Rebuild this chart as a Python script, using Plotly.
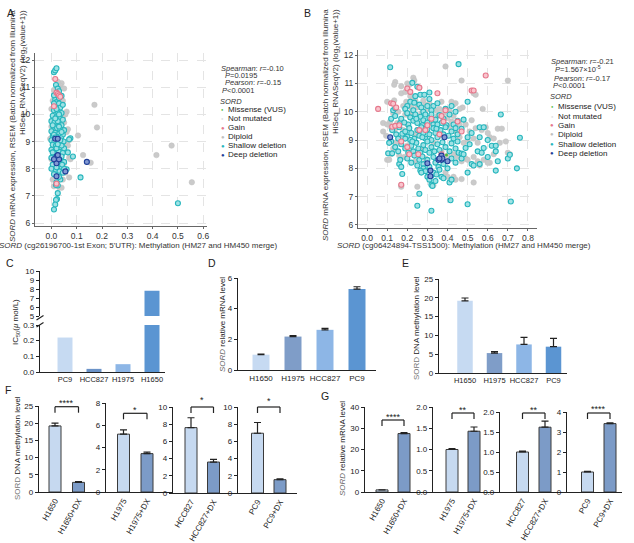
import plotly.graph_objects as go

W, H = 634, 543
FONT = "Liberation Sans, Arial, sans-serif"
TXT = "#222222"

# ---------------- data ----------------
# Panel A  (methylation cg26196700 vs mRNA)
A_diploid = [(0.04, 11.15), (0.035, 11.05), (0.025, 11.2), (0.03, 11.0), (0.05, 10.95), (0.06, 10.1),
             (0.055, 10.0), (0.065, 9.45), (0.06, 9.35), (0.07, 9.05), (0.065, 8.85), (0.07, 8.4),
             (0.075, 8.35), (0.07, 7.68), (0.055, 7.85), (0.045, 7.6), (0.01, 7.35), (0.03, 7.32),
             (0.04, 7.3), (0.005, 7.6), (0.0, 9.55), (-0.005, 9.1), (0.0, 8.35), (0.005, 10.5),
             (0.01, 9.0), (0.17, 10.35), (0.18, 9.52), (0.105, 9.22), (0.125, 8.5), (0.155, 8.22),
             (0.415, 8.5), (0.475, 8.85), (0.555, 7.5), (0.045, 10.5), (0.05, 9.7), (0.01, 10.9),
             (0.03, 7.8), (0.055, 8.95), (0.045, 9.9), (0.04, 8.6), (0.0, 10.2), (0.05, 8.2)]
A_shallow = [(0.01, 11.55), (0.015, 11.62), (0.02, 11.7), (0.018, 11.08), (0.025, 10.95), (0.03, 10.85),
             (0.04, 10.68), (0.015, 10.55), (0.02, 10.45), (0.03, 10.4), (0.035, 10.25), (0.01, 10.15),
             (0.025, 10.1), (0.04, 10.05), (0.005, 9.95), (0.02, 9.9), (0.035, 9.85), (0.045, 9.8),
             (0.0, 9.75), (0.012, 9.7), (0.028, 9.65), (0.04, 9.6), (0.008, 9.55), (0.022, 9.5),
             (0.035, 9.45), (0.05, 9.42), (0.0, 9.38), (0.015, 9.32), (0.03, 9.28), (0.045, 9.25),
             (0.005, 9.2), (0.02, 9.18), (0.038, 9.12), (0.0, 9.05), (0.012, 9.0), (0.028, 8.98),
             (0.042, 8.95), (0.005, 8.88), (0.018, 8.85), (0.035, 8.8), (0.05, 8.75), (0.0, 8.7),
             (0.015, 8.65), (0.03, 8.62), (0.045, 8.58), (0.008, 8.52), (0.025, 8.48), (0.04, 8.45),
             (0.0, 8.4), (0.015, 8.3), (0.035, 8.28), (0.05, 8.25), (0.005, 8.15), (0.025, 8.1),
             (0.04, 8.05), (0.0, 8.0), (0.018, 7.95), (0.032, 7.9), (0.045, 7.85), (0.01, 7.8),
             (0.028, 7.75), (0.035, 7.6), (0.02, 7.5), (0.025, 7.38), (0.018, 7.4), (0.025, 7.1),
             (0.022, 6.88), (0.018, 6.85), (0.015, 6.68), (0.01, 6.5), (0.115, 7.68), (0.5, 6.73),
             (0.085, 8.45), (0.065, 8.6), (0.075, 9.12), (0.07, 9.08), (0.06, 7.98), (0.05, 8.0),
             (0.03, 10.6), (0.01, 10.7), (0.02, 10.2), (0.045, 10.35), (0.005, 9.6), (0.048, 9.0),
             (0.01, 9.25), (0.03, 9.55), (0.04, 8.85), (0.012, 8.55), (0.03, 8.35), (0.042, 8.15),
             (0.02, 8.75), (0.025, 9.75), (0.015, 9.15), (0.03, 10.0), (0.015, 9.85), (0.035, 9.05),
             (0.02, 8.05), (0.005, 8.6), (0.04, 9.35), (0.025, 8.9), (0.01, 10.4), (0.03, 7.7)]
A_gain = [(0.015, 11.3), (0.01, 10.3), (0.02, 10.8), (0.025, 10.75), (0.03, 10.7), (0.035, 10.65),
          (0.02, 7.45)]
A_deep = [(0.14, 8.25), (0.055, 7.9), (0.02, 7.72), (0.015, 9.1), (0.025, 9.1), (0.02, 8.45),
          (0.02, 8.2), (0.03, 8.35), (0.01, 8.35), (0.025, 8.5)]

# Panel B  (methylation cg06424894 vs mRNA)
B_diploid = [(0.39, 11.6), (0.47, 11.1), (0.7, 11.1), (0.2, 11.0), (0.23, 11.2), (0.235, 11.1),
             (0.14, 11.05), (0.135, 10.95), (0.17, 10.9), (0.21, 10.95), (0.26, 10.85), (0.53, 10.65),
             (0.54, 10.6), (0.1, 10.35), (0.135, 10.4), (0.17, 10.65), (0.19, 10.7), (0.215, 10.55),
             (0.24, 10.4), (0.28, 10.4), (0.31, 10.3), (0.37, 10.35), (0.42, 10.35), (0.44, 10.3),
             (0.43, 10.25), (0.475, 10.15), (0.46, 10.1), (0.575, 10.1), (0.08, 9.6), (0.1, 9.55),
             (0.115, 9.65), (0.13, 9.95), (0.15, 9.6), (0.155, 10.0), (0.18, 10.2), (0.195, 10.35),
             (0.22, 10.15), (0.23, 10.45), (0.25, 10.15), (0.27, 9.95), (0.34, 10.05), (0.36, 10.1),
             (0.38, 9.95), (0.4, 9.78), (0.41, 10.05), (0.43, 9.85), (0.46, 9.55), (0.49, 9.55),
             (0.52, 9.7), (0.54, 9.42), (0.57, 9.35), (0.59, 9.45), (0.65, 9.4), (0.67, 9.4),
             (0.08, 9.3), (0.095, 9.15), (0.14, 9.4), (0.16, 9.05), (0.2, 9.55), (0.24, 9.2),
             (0.28, 9.55), (0.32, 9.62), (0.36, 9.15), (0.41, 9.45), (0.44, 9.3), (0.46, 9.1),
             (0.48, 8.9), (0.5, 9.0), (0.53, 9.05), (0.55, 8.9), (0.61, 9.1), (0.63, 9.05),
             (0.66, 8.9), (0.69, 8.95), (0.1, 8.3), (0.12, 8.5), (0.13, 8.7), (0.16, 8.45),
             (0.185, 8.4), (0.2, 8.8), (0.21, 8.65), (0.25, 8.5), (0.27, 8.7), (0.29, 8.35),
             (0.33, 8.9), (0.4, 8.45), (0.43, 8.5), (0.45, 8.4), (0.47, 8.25), (0.49, 8.35),
             (0.5, 8.3), (0.53, 8.4), (0.55, 8.25), (0.58, 8.3), (0.61, 8.2), (0.63, 8.5),
             (0.7, 8.55), (0.71, 8.5), (0.11, 8.3), (0.17, 7.35), (0.17, 7.4), (0.25, 7.35),
             (0.44, 7.6), (0.47, 7.62), (0.53, 7.5), (0.56, 8.1), (0.6, 8.2), (0.39, 7.85),
             (0.43, 7.7), (0.33, 7.4), (0.4, 7.7), (0.21, 9.85), (0.19, 9.9), (0.26, 9.75),
             (0.3, 10.1), (0.12, 9.45), (0.18, 9.35), (0.22, 9.95), (0.29, 10.25), (0.35, 9.85),
             (0.42, 9.65), (0.51, 9.3), (0.6, 9.25), (0.14, 8.9), (0.24, 8.25), (0.37, 8.6)]
B_shallow = [(0.115, 11.57), (0.455, 11.68), (0.225, 11.02), (0.25, 10.88), (0.265, 10.6), (0.31, 10.68),
             (0.31, 10.45), (0.285, 10.6), (0.24, 10.55),
             (0.215, 10.35), (0.235, 10.32), (0.2, 10.2), (0.26, 10.25), (0.27, 10.15), (0.3, 10.2),
             (0.33, 10.2), (0.35, 10.3), (0.42, 10.2), (0.39, 10.1), (0.5, 10.35), (0.13, 10.05),
             (0.19, 10.1), (0.23, 10.05), (0.28, 10.0), (0.32, 10.05), (0.44, 10.0), (0.14, 10.12),
             (0.12, 9.75), (0.14, 9.85), (0.165, 9.6), (0.17, 9.75), (0.2, 9.95), (0.215, 9.8),
             (0.23, 9.68), (0.24, 9.9), (0.25, 9.6), (0.265, 9.82), (0.28, 9.7), (0.29, 9.9),
             (0.3, 9.62), (0.31, 9.78), (0.32, 9.9), (0.33, 9.55), (0.34, 9.72), (0.36, 9.88),
             (0.37, 9.6), (0.38, 9.75), (0.41, 9.9), (0.43, 9.55), (0.45, 9.68), (0.48, 9.72),
             (0.56, 9.45), (0.665, 9.9), (0.205, 9.55), (0.185, 9.62), (0.245, 9.75), (0.275, 9.52),
             (0.35, 9.55), (0.395, 9.52),
             (0.125, 9.35), (0.145, 9.2), (0.16, 9.45), (0.175, 9.22), (0.19, 9.3), (0.2, 9.12),
             (0.21, 9.42), (0.22, 9.25), (0.235, 9.05), (0.25, 9.35), (0.26, 9.15), (0.27, 9.45),
             (0.28, 9.25), (0.29, 9.05), (0.3, 9.38), (0.31, 9.2), (0.32, 9.0), (0.33, 9.42),
             (0.34, 9.25), (0.35, 9.1), (0.365, 9.35), (0.38, 9.2), (0.39, 9.45), (0.405, 9.15),
             (0.42, 9.3), (0.43, 9.05), (0.45, 9.2), (0.47, 9.4), (0.5, 9.1), (0.52, 9.25),
             (0.56, 9.1), (0.58, 9.45), (0.6, 9.0), (0.76, 9.08), (0.12, 8.95), (0.11, 8.9),
             (0.215, 9.0), (0.275, 9.1), (0.345, 9.4), (0.44, 9.42), (0.19, 9.05), (0.155, 9.05),
             (0.105, 8.53), (0.14, 8.75), (0.155, 8.6), (0.17, 8.85), (0.19, 8.7), (0.205, 8.55),
             (0.22, 8.8), (0.23, 8.6), (0.245, 8.9), (0.255, 8.7), (0.265, 8.55), (0.28, 8.82),
             (0.29, 8.65), (0.3, 8.95), (0.31, 8.55), (0.32, 8.75), (0.335, 8.6), (0.35, 8.85),
             (0.36, 8.65), (0.375, 8.92), (0.39, 8.75), (0.41, 8.6), (0.42, 8.88), (0.44, 8.7),
             (0.455, 8.55), (0.47, 8.52), (0.49, 8.72), (0.51, 8.85), (0.55, 8.6), (0.58, 8.72),
             (0.62, 8.8), (0.64, 8.8), (0.64, 8.6), (0.57, 8.55), (0.45, 8.95), (0.225, 8.95),
             (0.125, 8.53),
             (0.16, 8.15), (0.165, 8.3), (0.2, 8.35), (0.22, 8.2), (0.235, 8.45), (0.25, 8.1),
             (0.26, 8.3), (0.275, 8.42), (0.28, 8.15), (0.3, 8.3), (0.31, 8.05), (0.33, 8.4),
             (0.34, 8.2), (0.355, 8.05), (0.38, 8.15), (0.4, 8.0), (0.42, 8.35), (0.44, 8.2),
             (0.47, 8.35), (0.48, 8.5), (0.52, 8.15), (0.53, 8.1), (0.56, 8.15), (0.6, 8.4),
             (0.65, 8.25), (0.7, 8.35), (0.71, 8.48), (0.17, 8.05), (0.28, 8.0),
             (0.175, 7.8), (0.29, 7.9), (0.3, 7.7), (0.31, 7.6), (0.32, 7.75), (0.33, 7.85),
             (0.34, 7.55), (0.345, 7.78), (0.36, 7.95), (0.37, 7.7), (0.38, 7.65), (0.41, 7.5),
             (0.42, 7.6), (0.5, 7.85), (0.64, 7.92), (0.745, 8.0), (0.32, 7.42), (0.325, 7.38),
             (0.26, 7.1), (0.265, 7.92), (0.27, 7.85),
             (0.25, 6.68), (0.32, 6.5), (0.415, 6.87), (0.5, 6.73), (0.715, 6.83)]
B_gain = [(0.055, 10.1), (0.12, 10.3), (0.13, 10.28), (0.145, 10.15), (0.125, 9.47), (0.14, 9.5),
          (0.16, 9.52), (0.17, 8.95), (0.17, 7.42), (0.2, 10.82), (0.26, 10.85), (0.2, 8.75),
          (0.255, 8.5), (0.35, 10.65), (0.3, 9.52), (0.32, 9.75), (0.37, 9.85), (0.39, 10.05),
          (0.37, 8.5), (0.36, 9.2), (0.38, 9.65), (0.47, 9.3), (0.45, 9.65), (0.52, 10.75),
          (0.53, 10.75), (0.59, 11.28), (0.26, 9.35), (0.29, 9.35), (0.215, 10.7), (0.21, 8.5)]
B_deep = [(0.115, 9.1), (0.385, 9.1), (0.37, 8.45), (0.37, 8.3), (0.355, 8.3), (0.375, 8.35),
          (0.4, 8.25), (0.3, 8.18), (0.315, 7.92), (0.315, 7.72), (0.36, 8.35)]
B_missense = [(0.395, 8.47)]

# Panel C
C_cells = ["PC9", "HCC827", "H1975", "H1650"]
C_ic50 = [0.22, 0.02, 0.05, 7.8]
# Panel D
D_cells = ["H1650", "H1975", "HCC827", "PC9"]
D_mrna = [1.0, 2.18, 2.62, 5.28]
D_err = [0.03, 0.07, 0.1, 0.15]
# Panel E
E_cells = ["H1650", "H1975", "HCC827", "PC9"]
E_meth = [19.2, 5.3, 7.6, 7.0]
E_err = [0.75, 0.4, 1.9, 2.2]
# Panel F (DNA methylation +/- DX)
F_labels = [["H1650", "H1650+DX"], ["H1975", "H1975+DX"], ["HCC827", "HCC827+DX"], ["PC9", "PC9+DX"]]
F_vals = [[19.2, 2.8], [5.2, 3.45], [7.6, 3.6], [6.95, 1.55]]
F_err = [[0.8, 0.25], [0.38, 0.13], [1.15, 0.32], [1.25, 0.1]]
F_sig = ["****", "*", "*", "*"]
F_ymax = [25, 8, 10, 10]
F_dtick = [5, 2, 2, 2]
# Panel G (mRNA +/- DX)
G_labels = [["H1650", "H1650+DX"], ["H1975", "H1975+DX"], ["HCC827", "HCC827+DX"], ["PC9", "PC9+DX"]]
G_vals = [[1.0, 27.5], [1.0, 1.43], [1.0, 1.62], [1.0, 3.42]]
G_err = [[0.05, 0.4], [0.02, 0.1], [0.02, 0.15], [0.03, 0.04]]
G_sig = ["****", "**", "**", "****"]
G_ymax = [40, 2, 2, 4]
G_dtick = [10, 0.5, 0.5, 1]

# ---------------- styles ----------------
GRAY, GRAY_L = "#cacaca", "#c0c0c0"
CYAN, CYAN_L = "#9fe2e5", "#27b6bd"
PINK, PINK_L = "#f9c4cd", "#e5788c"
DEEP, DEEP_L = "#8299d2", "#1f3f99"
GREEN = "#4fb83a"
BAR_COL4 = {"PC9": "#5b95d2", "HCC827": "#8db6e6", "H1975": "#7f9dc8", "H1650": "#c6daf2"}
C_COL = ["#c6daf2", "#6b93c8", "#8db6e6", "#5b95d2"]
PAIR_COL = ["#c6d9f0", "#7c9bc7"]


def dom_x(l, r):
    return [l / W, r / W]


def dom_y(top, bot):
    return [1 - bot / H, 1 - top / H]


def xn(n):
    return "xaxis" if n == 1 else f"xaxis{n}"


def yn(n):
    return "yaxis" if n == 1 else f"yaxis{n}"


def xr(n):
    return "x" if n == 1 else f"x{n}"


def yr(n):
    return "y" if n == 1 else f"y{n}"


fig = go.Figure()
layout = dict(width=W, height=H, margin=dict(l=0, r=0, t=0, b=0), paper_bgcolor="white",
              plot_bgcolor="white", showlegend=False, barmode="overlay",
              font=dict(family=FONT, size=8, color=TXT))
shapes, anns = [], []


def note(text, x, y, size=8, xa="left", ya="middle", angle=0, color=TXT, align="left"):
    anns.append(dict(text=text, x=x / W, y=1 - y / H, xref="paper", yref="paper", xanchor=xa,
                     yanchor=ya, showarrow=False, textangle=angle, align=align,
                     font=dict(size=size, color=color, family=FONT)))


def pline(x0, y0, x1, y1, color="#222", width=1.2, xref="paper", pxx=True):
    if pxx:
        x0, x1 = x0 / W, x1 / W
    shapes.append(dict(type="line", xref=xref, yref="paper", x0=x0, x1=x1, y0=1 - y0 / H,
                       y1=1 - y1 / H, line=dict(color=color, width=width)))


# ---------------- scatter panels ----------------
def scatter_axes(n, xpx, ypx, xrange, yrange, xt):
    common = dict(showgrid=True, gridcolor="#e4e4e4", griddash="dash", gridwidth=0.7, showline=True,
                  linecolor="#666", linewidth=1, ticks="outside", ticklen=2, tickcolor="#666",
                  tickfont=dict(size=8.5, color="#333"), zeroline=False, automargin=False)
    layout[xn(n)] = dict(domain=dom_x(*xpx), range=xrange, anchor=yr(n), tickvals=xt,
                         tickformat=".1f", **common)
    layout[yn(n)] = dict(domain=dom_y(*ypx), range=yrange, anchor=xr(n),
                         tickvals=[6, 7, 8, 9, 10, 11, 12], **common)


def add_points(n, pts, fill, line, size=5, lw=1.1):
    fig.add_trace(go.Scatter(x=[p[0] for p in pts], y=[p[1] for p in pts], mode="markers",
                             xaxis=xr(n), yaxis=yr(n), hoverinfo="skip",
                             marker=dict(size=size, color=fill, line=dict(color=line, width=lw))))


scatter_axes(1, (35, 207), (53, 226), [-0.065, 0.615], [5.89, 12.26], [0, 0.1, 0.2, 0.3, 0.4, 0.5, 0.6])
scatter_axes(2, (358, 537), (50, 227.5), [-0.045, 0.845], [5.91, 12.18],
             [0, 0.1, 0.2, 0.3, 0.4, 0.5, 0.6, 0.7, 0.8])
for n, dip, sh, ga, de in [(1, A_diploid, A_shallow, A_gain, A_deep), (2, B_diploid, B_shallow, B_gain, B_deep)]:
    add_points(n, dip, GRAY, GRAY_L, size=5.5, lw=0.5)
    add_points(n, sh, CYAN, CYAN_L)
    add_points(n, ga, PINK, PINK_L)
    add_points(n, de, DEEP, DEEP_L)
add_points(2, B_missense, GREEN, GREEN, size=3, lw=0)

# scatter text
yt1 = ("<i>SORD</i> mRNA expression, RSEM (Batch normalized from Illumina<br>"
       "HiSeq_RNASeqV2) (log<sub>2</sub>(value+1))")
note(yt1, 18, 126, size=8, xa="center", angle=-90, align="right", color="#333")
note(yt1, 331, 125, size=8, xa="center", angle=-90, align="right", color="#333")
note("<i>SORD</i> (cg26196700-1st Exon; 5'UTR): Methylation (HM27 and HM450 merge)", 138, 245,
     size=8, xa="center", color="#333")
note("<i>SORD</i> (cg06424894-TSS1500): Methylation (HM27 and HM450 merge)", 464, 245,
     size=8, xa="center", color="#333")

legend_items = [("Missense (VUS)", GREEN, 4), ("Not mutated", "#dddddd", 4), ("Gain", PINK_L, 6),
                ("Diploid", GRAY_L, 6), ("Shallow deletion", CYAN_L, 6), ("Deep deletion", DEEP_L, 6)]


def stats_block(x0, ys, stats, item_y, dot_x, txt_x):
    for (t, dx), y in zip(stats, ys):
        note(t, x0 + dx, y, size=7.5, color="#333")
    note("<i>SORD</i>", x0, ys[-1] + 11, size=7.5, color="#333")
    for (lab, col, s), y in zip(legend_items, item_y):
        note("●", dot_x, y, size=s, xa="center", color=col)
        note(lab, txt_x, y, size=8, color="#222")


stats_block(218, [68, 75.5, 83, 90.5],
            [("<i>Spearman</i>: <i>r</i>=-0.10", 1), ("<i>P</i>=0.0195", 5),
             ("<i>Pearson</i>: <i>r</i>=-0.15", 5), ("<i>P</i>&lt;0.0001", 2)],
            [109, 118.3, 127.5, 136.6, 145.8, 154.7], 222.5, 226)
stats_block(548, [61.7, 69.3, 78.3, 85.7],
            [("<i>Spearman</i>: <i>r</i>=-0.21", 1), ("<i>P</i>=1.567×10<sup>-5</sup>", 5),
             ("<i>Pearson</i>: <i>r</i>=-0.17", 4), ("<i>P</i>&lt;0.0001", 3)],
            [106.7, 116, 125.3, 134.3, 144, 153.3], 552, 555.7)


# ---------------- bar panels ----------------
def bar_axes(nx, ny, left, right, top, bot, c0, step, yrange, ytv, labels, angle=0, yfmt=None,
             xfont=8.5):
    layout[xn(nx)] = dict(domain=dom_x(left, right), range=[(left - c0) / step, (right - c0) / step],
                          anchor=yr(ny), tickvals=list(range(len(labels))), ticktext=labels,
                          tickangle=angle, showline=True, linecolor="#222", linewidth=1.3, ticks="",
                          showgrid=False, zeroline=False, tickfont=dict(size=xfont, color=TXT),
                          automargin=False)
    yd = dict(domain=dom_y(top, bot), range=yrange, anchor=xr(nx), tickvals=ytv, showline=True,
              linecolor="#222", linewidth=1.3, ticks="outside", ticklen=3, tickcolor="#222",
              tickwidth=1.2, showgrid=False, zeroline=False, tickfont=dict(size=8, color=TXT),
              automargin=False)
    if yfmt:
        yd["tickformat"] = yfmt
    layout[yn(ny)] = yd


def add_bars(nx, ny, vals, colors, width, err=None, outline=False):
    kw = dict(x=list(range(len(vals))), y=vals, width=width, xaxis=xr(nx), yaxis=yr(ny),
              hoverinfo="skip",
              marker=dict(color=colors, line=dict(color="#3a3a3a" if outline else "rgba(0,0,0,0)",
                                                  width=1 if outline else 0)))
    if err is not None:
        kw["error_y"] = dict(type="data", array=err, arrayminus=[0] * len(err), symmetric=False,
                             color="#222", thickness=1.2, width=3.5)
    fig.add_trace(go.Bar(**kw))


# C : broken axis (x3 + lower y3 + upper y4)
bar_axes(3, 3, 40, 165, 325, 372, 65, 29, [0, 0.3], [0, 0.1, 0.2, 0.3], C_cells, yfmt=".1f", xfont=7.5)
layout[yn(4)] = dict(domain=dom_y(271, 316), range=[5, 10], anchor="x3", tickvals=[5, 6, 7, 8, 9, 10],
                     showline=True, linecolor="#222", linewidth=1.3, ticks="outside", ticklen=3,
                     tickcolor="#222", tickwidth=1.2, showgrid=False, zeroline=False,
                     tickfont=dict(size=8, color=TXT), automargin=False)
add_bars(3, 3, C_ic50, C_COL, 15 / 29)
add_bars(3, 4, C_ic50, C_COL, 15 / 29)
pline(36.5, 320, 43.5, 315.5, width=1.2)
pline(36.5, 327, 43.5, 322.5, width=1.2)
note("IC<sub>50</sub>(<i>μ</i> mol/L)", 16, 322, size=8, xa="center", angle=-90)

# D
bar_axes(5, 5, 238, 376, 278, 370, 261, 32, [0, 6], [0, 2, 4, 6], D_cells, xfont=8)
add_bars(5, 5, D_mrna, [BAR_COL4[c] for c in D_cells], 17 / 32, err=D_err)
note("<i><span style='color:#666'>SORD</span></i> relative mRNA level", 222, 325, size=8, xa="center",
     angle=-90)

# E
bar_axes(6, 6, 439, 567, 279, 373, 465, 29.5, [0, 25], [0, 5, 10, 15, 20, 25], E_cells, xfont=7.5)
add_bars(6, 6, E_meth, [BAR_COL4[c] for c in E_cells], 15.5 / 29.5, err=E_err)
note("<span style='color:#777'>SORD</span> DNA methylation level", 416, 328, size=8, xa="center",
     angle=-90)

# F
F_left = [39, 106, 173, 238]
F_right = [106, 173, 238, 297]
F_c0 = [55, 123.5, 191, 257.5]
F_step = [23.5, 23.5, 22.5, 22.5]
F_top = [406, 403, 407, 407]
F_bot = [492, 492, 493, 493]
F_br = [406.7, 413.3, 407, 407]
F_star = [403, 410, 400, 401]
for i in range(4):
    n = 7 + i
    ticks = [k * F_dtick[i] for k in range(int(F_ymax[i] / F_dtick[i]) + 1)]
    bar_axes(n, n, F_left[i], F_right[i], F_top[i], F_bot[i], F_c0[i], F_step[i], [0, F_ymax[i]],
             ticks, F_labels[i], angle=-60, xfont=8)
    add_bars(n, n, F_vals[i], PAIR_COL, 12 / F_step[i], err=F_err[i], outline=True)
    xa = xr(n)
    y0 = F_br[i]
    pline(0, y0 + 6, 0, y0, xref=xa, pxx=False)
    pline(0, y0, 1, y0, xref=xa, pxx=False)
    pline(1, y0, 1, y0 + 6, xref=xa, pxx=False)
    anns.append(dict(text=F_sig[i], x=0.5, y=1 - F_star[i] / H, xref=xa, yref="paper", showarrow=False,
                     xanchor="center", yanchor="middle", font=dict(size=9, color=TXT, family=FONT)))
note("<span style='color:#777'>SORD</span> DNA methylation level", 17, 448, size=8, xa="center",
     angle=-90)

# G
G_left = [365, 433, 500, 567]
G_right = [433, 500, 567, 622]
G_c0 = [382, 452, 522.5, 587.5]
G_step = [22, 22, 22.5, 22.5]
G_top = [407, 407, 412, 412]
G_bot = [492, 492, 492, 492]
G_br = [420, 413, 413, 413]
G_star = [417, 410, 410, 409]
for i in range(4):
    n = 11 + i
    ticks = [round(k * G_dtick[i], 2) for k in range(int(round(G_ymax[i] / G_dtick[i])) + 1)]
    bar_axes(n, n, G_left[i], G_right[i], G_top[i], G_bot[i], G_c0[i], G_step[i], [0, G_ymax[i]],
             ticks, G_labels[i], angle=-60, yfmt=".1f" if G_dtick[i] < 1 else None, xfont=8)
    add_bars(n, n, G_vals[i], PAIR_COL, 12 / G_step[i], err=G_err[i], outline=True)
    xa = xr(n)
    y0 = G_br[i]
    pline(0, y0 + 6, 0, y0, xref=xa, pxx=False)
    pline(0, y0, 1, y0, xref=xa, pxx=False)
    pline(1, y0, 1, y0 + 6, xref=xa, pxx=False)
    anns.append(dict(text=G_sig[i], x=0.5, y=1 - G_star[i] / H, xref=xa, yref="paper", showarrow=False,
                     xanchor="center", yanchor="middle", font=dict(size=9, color=TXT, family=FONT)))
note("<i><span style='color:#666'>SORD</span></i> relative mRNA level", 342, 449, size=8, xa="center",
     angle=-90)

# panel letters
for lab, x, y in [("A", 10, 13), ("B", 307, 13), ("C", 10, 263), ("D", 212, 263), ("E", 405, 263),
                  ("F", 8, 390), ("G", 325, 396)]:
    note(lab, x, y, size=10.5, xa="center")

layout["shapes"] = shapes
layout["annotations"] = anns
fig.update_layout(**layout)
fig.write_html("out.html")
